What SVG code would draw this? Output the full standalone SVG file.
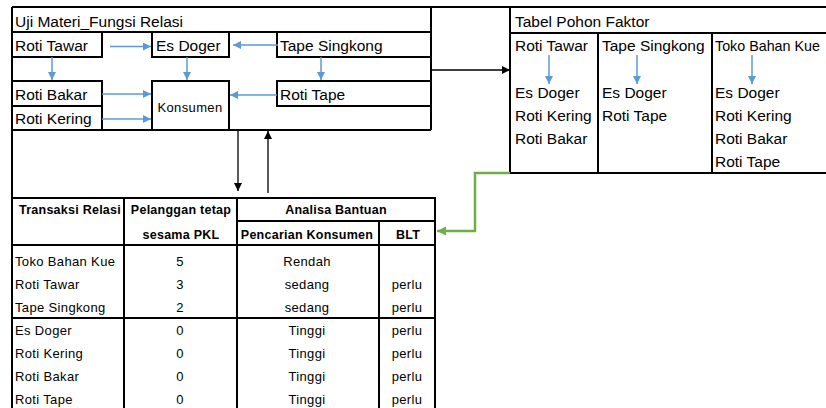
<svg xmlns="http://www.w3.org/2000/svg" width="826" height="408" viewBox="0 0 826 408">
<defs>
<marker id="ab" markerUnits="userSpaceOnUse" markerWidth="9" markerHeight="9" refX="8" refY="4" orient="auto"><path d="M0,0 L8,4 L0,8 z" fill="#5B9BD5"/></marker>
<marker id="ak" markerUnits="userSpaceOnUse" markerWidth="9" markerHeight="9" refX="8" refY="4" orient="auto"><path d="M0,0 L8,4 L0,8 z" fill="#000"/></marker>
<marker id="ag" markerUnits="userSpaceOnUse" markerWidth="10" markerHeight="10" refX="9" refY="4.5" orient="auto"><path d="M0,0 L9,4.5 L0,9 z" fill="#70AD47"/></marker>
</defs>
<style>
.b{fill:none;stroke:#000;stroke-width:2}
.t{font-family:"Liberation Sans",Arial,sans-serif;font-size:15.5px;fill:#000}
.s{font-family:"Liberation Sans",Arial,sans-serif;font-size:13px;letter-spacing:0.35px;fill:#000}
.h{font-family:"Liberation Sans",Arial,sans-serif;font-size:12.5px;font-weight:bold;letter-spacing:0.25px;fill:#000}
.c{text-anchor:middle}
.ba{stroke:#5B9BD5;stroke-width:1.5;fill:none;marker-end:url(#ab)}
.ka{stroke:#000;stroke-width:1.3;fill:none;marker-end:url(#ak)}
.ga{stroke:#70AD47;stroke-width:2.5;fill:none;marker-end:url(#ag)}
</style>
<rect x="0" y="0" width="826" height="408" fill="#fff"/>

<g id="frame">
<path class="b" d="M12,7 H826 M12,7 V408"/>
</g>

<g id="uji-materi">
<path class="b" d="M431,7 V130 M12,130 H431 M12,32 H431"/>
<text class="t" x="15" y="27">Uji Materi_Fungsi Relasi</text>
</g>
<g id="roti-tawar">
<path class="b" d="M12,57 H102 V32"/>
<text class="t" x="15" y="51">Roti Tawar</text>
</g>
<g id="es-doger">
<rect class="b" x="152" y="32" width="77" height="25"/>
<text class="t" x="156" y="51">Es Doger</text>
</g>
<g id="tape-singkong">
<path class="b" d="M277,32 V57 H431"/>
<text class="t" x="280" y="51">Tape Singkong</text>
</g>
<g id="roti-bakar">
<path class="b" d="M12,81 H102 V130 M12,106 H102"/>
<text class="t" x="15" y="100">Roti Bakar</text>
</g>
<g id="roti-kering">
<text class="t" x="15" y="124">Roti Kering</text>
</g>
<g id="konsumen">
<path class="b" d="M152,130 V81 H229 V130"/>
<text class="s c" x="190" y="112">Konsumen</text>
</g>
<g id="roti-tape">
<path class="b" d="M431,81 H277 V106 H431"/>
<text class="t" x="280" y="100">Roti Tape</text>
</g>

<g id="tabel-pohon-faktor">
<path class="b" d="M510,7 V173 H826 M510,33 H826 M598,33 V173 M712,33 V173"/>
<text class="t" x="515" y="27">Tabel Pohon Faktor</text>
<text class="t" x="515" y="51">Roti Tawar</text>
<text class="t" x="602" y="51">Tape Singkong</text>
<text class="t" x="715" y="51" style="font-size:14.3px">Toko Bahan Kue</text>
<text class="t" x="515" y="98">Es Doger</text>
<text class="t" x="515" y="121">Roti Kering</text>
<text class="t" x="515" y="144">Roti Bakar</text>
<text class="t" x="602" y="98">Es Doger</text>
<text class="t" x="602" y="121">Roti Tape</text>
<text class="t" x="715" y="98">Es Doger</text>
<text class="t" x="715" y="121">Roti Kering</text>
<text class="t" x="715" y="144">Roti Bakar</text>
<text class="t" x="715" y="167">Roti Tape</text>
</g>

<g id="tabel-analisa">
<path class="b" d="M12,198 H435 V408 M124,198 V408 M237,198 V408 M379,221 V408 M237,221 H435 M12,245 H435 M12,318 H435"/>
<text class="h c" x="70" y="214">Transaksi Relasi</text>
<text class="h c" x="181" y="214">Pelanggan tetap</text>
<text class="h c" x="181" y="239">sesama PKL</text>
<text class="h c" x="336" y="214">Analisa Bantuan</text>
<text class="h c" x="307" y="239">Pencarian Konsumen</text>
<text class="h c" x="408" y="239">BLT</text>

<text class="s" x="15" y="266">Toko Bahan Kue</text>
<text class="s c" x="180" y="266">5</text>
<text class="s c" x="307" y="266">Rendah</text>

<text class="s" x="15" y="289">Roti Tawar</text>
<text class="s c" x="180" y="289">3</text>
<text class="s c" x="307" y="289">sedang</text>
<text class="s c" x="407" y="289">perlu</text>

<text class="s" x="15" y="312">Tape Singkong</text>
<text class="s c" x="180" y="312">2</text>
<text class="s c" x="307" y="312">sedang</text>
<text class="s c" x="407" y="312">perlu</text>

<text class="s" x="15" y="335">Es Doger</text>
<text class="s c" x="180" y="335">0</text>
<text class="s c" x="307" y="335">Tinggi</text>
<text class="s c" x="407" y="335">perlu</text>

<text class="s" x="15" y="358">Roti Kering</text>
<text class="s c" x="180" y="358">0</text>
<text class="s c" x="307" y="358">Tinggi</text>
<text class="s c" x="407" y="358">perlu</text>

<text class="s" x="15" y="381">Roti Bakar</text>
<text class="s c" x="180" y="381">0</text>
<text class="s c" x="307" y="381">Tinggi</text>
<text class="s c" x="407" y="381">perlu</text>

<text class="s" x="15" y="404">Roti Tape</text>
<text class="s c" x="180" y="404">0</text>
<text class="s c" x="307" y="404">Tinggi</text>
<text class="s c" x="407" y="404">perlu</text>
</g>

<g id="connectors">
<path class="ba" d="M110,46.5 H151"/>
<path class="ba" d="M52,57 V80"/>
<path class="ba" d="M102,94 H151"/>
<path class="ba" d="M102,119 H151"/>
<path class="ba" d="M187,57 V80"/>
<path class="ba" d="M278,45 H233"/>
<path class="ba" d="M321,57 V80"/>
<path class="ba" d="M277,95 H230"/>
<path class="ba" d="M549,55 V84"/>
<path class="ba" d="M637,55 V84"/>
<path class="ba" d="M752,55 V84"/>
<path class="ka" d="M432,70 H510"/>
<path class="ka" d="M238,131 V191"/>
<path class="ka" d="M268,193 V131"/>
<path class="ga" d="M510,173 H475 V231 H437"/>
</g>
</svg>
